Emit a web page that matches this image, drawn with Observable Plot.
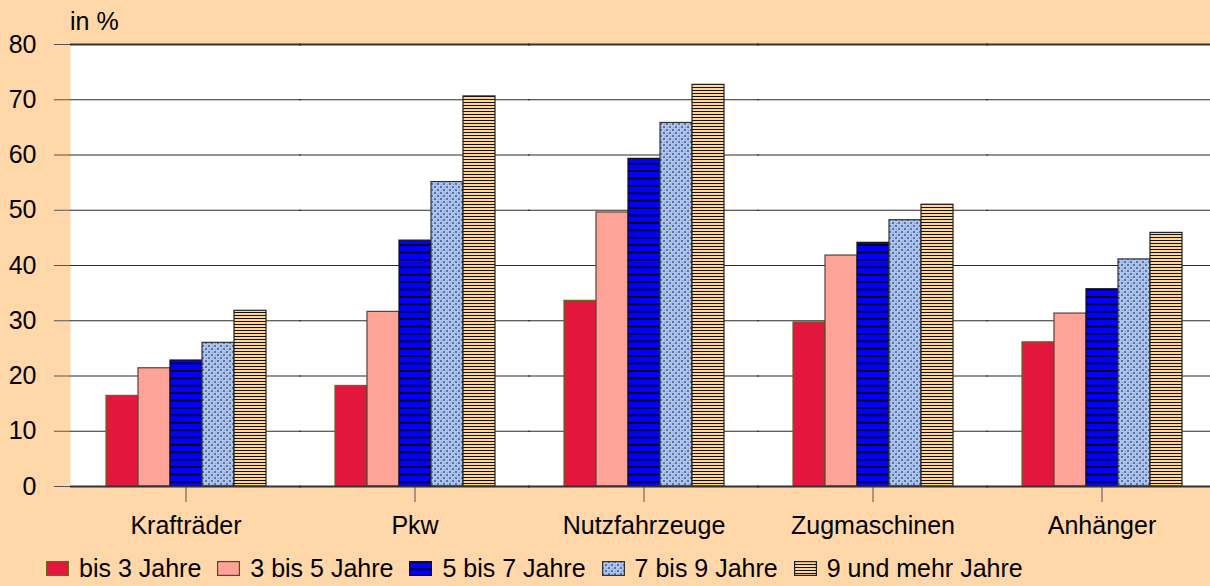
<!DOCTYPE html>
<html><head><meta charset="utf-8">
<script src="https://cdn.jsdelivr.net/npm/d3@7"></script>
<script src="https://cdn.jsdelivr.net/npm/@observablehq/plot@0.6"></script>
<style>
html,body{margin:0;padding:0;background:#FFD7A8;overflow:hidden;width:1210px;height:586px;}
#wrap{position:relative;width:1210px;height:586px;font-family:"Liberation Sans",Arial,sans-serif;color:#000;}
#chart{position:absolute;left:0;top:0;}
#unit{position:absolute;left:70px;top:7px;font-size:25px;}
#legend{position:absolute;left:46px;top:556px;display:flex;font-size:25px;line-height:25px;align-items:center;white-space:nowrap;}
.item{display:flex;align-items:center;margin-right:16px;}
.item svg{margin-right:10px;}
</style>
</head><body>
<svg width="0" height="0" style="position:absolute">
  <defs>
    <pattern id="pBlue" patternUnits="userSpaceOnUse" width="8" height="7.4">
      <rect width="8" height="7.4" fill="#0000FF"/>
      <rect y="0" width="8" height="1.6" fill="#000"/>
    </pattern>
    <pattern id="pDots" patternUnits="userSpaceOnUse" width="6" height="6">
      <rect width="6" height="6" fill="#ABC4F6"/>
      <rect x="0" y="0" width="2" height="2" fill="#62718F"/>
      <rect x="3" y="3" width="2" height="2" fill="#62718F"/>
      <rect x="1" y="4" width="1" height="1" fill="#8A9AB8"/>
      <rect x="4" y="1" width="1" height="1" fill="#8A9AB8"/>
    </pattern>
    <pattern id="pLines" patternUnits="userSpaceOnUse" width="6" height="3">
      <rect width="6" height="3" fill="#FFD692"/>
      <rect y="0" width="6" height="1" fill="#111"/>
    </pattern>
  </defs>
</svg>
<div id="wrap">
  <div id="chart"></div>
  <div id="unit">in %</div>
  <div id="legend"></div>
</div>
<script>
const categories = ["Krafträder", "Pkw", "Nutzfahrzeuge", "Zugmaschinen", "Anhänger"];
const series = ["bis 3 Jahre", "3 bis 5 Jahre", "5 bis 7 Jahre", "7 bis 9 Jahre", "9 und mehr Jahre"];
const bis3 = [16.4, 18.2, 33.6, 29.7, 26.1];
const bis5 = [21.4, 31.6, 49.6, 41.8, 31.3];
const bis7 = [22.8, 44.5, 59.3, 44.1, 35.7];
const bis9 = [26.0, 55.1, 65.8, 48.2, 41.1];
const ab9  = [31.8, 70.6, 72.7, 51.0, 45.9];
const yTicks = [0, 10, 20, 30, 40, 50, 60, 70, 80];

const seriesValues = [bis3, bis5, bis7, bis9, ab9];
const fills = ["#E3173D", "#FFA398", "url(#pBlue)", "url(#pDots)", "url(#pLines)"];
const strokes = ["#5E6A1A", "#5A4035", "#111", "#333", "#222"];

const rows = [];
categories.forEach((c, i) => {
  series.forEach((s, j) => rows.push({cat: c, series: s, value: seriesValues[j][i], k: j}));
});

const chart = Plot.plot({
  width: 1210,
  height: 546,
  marginLeft: 70,
  marginRight: -6,
  marginTop: 44,
  marginBottom: 60,
  style: {background: "transparent", fontFamily: "Liberation Sans, Arial, sans-serif", fontSize: "25px", color: "#000", overflow: "hidden"},
  facet: {data: rows, x: "cat"},
  fx: {domain: categories, padding: 0, label: null, axis: "bottom", tickSize: 16, tickPadding: 14},
  x: {domain: series, paddingInner: 0, paddingOuter: 1.06, axis: null},
  y: {domain: [0, 80], ticks: yTicks, tickSize: 17, tickPadding: 18, label: null, line: true},
  color: {type: "identity"},
  marks: [
    Plot.frame({fill: "white", stroke: "none", insetLeft: -1, insetRight: -1}),
    Plot.ruleY(yTicks, {stroke: "#2b2b2b", strokeWidth: 1.2, insetLeft: -1, insetRight: -1}),
    Plot.barY(rows, {x: "series", y: "value", fill: d => fills[d.k], stroke: d => strokes[d.k], strokeWidth: 1.2}),
    Plot.ruleY([0], {stroke: "#333", strokeWidth: 2, insetLeft: -1, insetRight: -1}),
    Plot.ruleY([80], {stroke: "#333", strokeWidth: 2, insetLeft: -1, insetRight: -1})
  ]
});
document.getElementById("chart").appendChild(chart);
chart.querySelectorAll("[aria-label$='tick'] path, [aria-label$='tick'] line, g[aria-label*='axis'] line, g[aria-label*='axis'] path").forEach(el => {
  el.setAttribute("stroke", "#555");
});

const legend = document.getElementById("legend");
series.forEach((s, j) => {
  const item = document.createElement("div");
  item.className = "item";
  item.innerHTML = `<svg width="23" height="15"><rect x="0.6" y="0.6" width="21.8" height="13.8" fill="${fills[j]}" stroke="${strokes[j]}" stroke-width="1.2"/></svg><span>${s}</span>`;
  legend.appendChild(item);
});
</script>
</body></html>
